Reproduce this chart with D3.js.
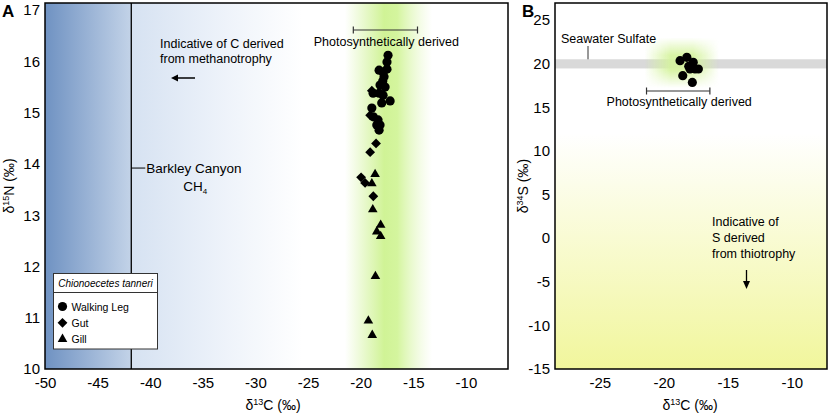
<!DOCTYPE html>
<html>
<head>
<meta charset="utf-8">
<script src="https://cdn.jsdelivr.net/npm/d3@7"></script>
<style>
  body { margin: 0; background: #fff; }
  svg { font-family: "Liberation Sans", Arial, sans-serif; }
</style>
</head>
<body>
<script>
// ---- data ----
var walkingLegC = [-17.4, -17.5, -18.25, -17.87, -17.5, -17.78, -17.9, -18.16, -17.68, -18.82, -18.25, -17.87, -17.2, -18.0, -18.94, -18.8, -18.35, -18.47, -18.16, -18.25];
var walkingLegN = [16.12, 15.99, 15.83, 15.79, 15.85, 15.70, 15.62, 15.54, 15.50, 15.38, 15.38, 15.34, 15.23, 15.19, 15.09, 14.92, 14.86, 14.76, 14.76, 14.66];
var gutC = [-18.94, -19.1, -18.54, -19.1, -19.96, -19.58, -18.8];
var gutN = [15.43, 14.95, 14.40, 14.23, 13.74, 13.63, 13.37];
var gillC = [-18.63, -18.94, -18.85, -18.1, -18.47, -18.1, -18.6, -19.27, -18.9];
var gillN = [13.80, 13.62, 13.11, 12.81, 12.68, 12.59, 11.81, 10.94, 10.66];

var walkingLegBC = [-18.73, -18.2, -17.7, -17.95, -17.56, -17.3, -18.52, -17.77, -18.05];
var walkingLegBS = [20.34, 20.72, 20.15, 19.39, 19.39, 19.39, 18.62, 17.85, 19.7];

var xTicksA = [-50, -45, -40, -35, -30, -25, -20, -15, -10];
var yTicksA = [10, 11, 12, 13, 14, 15, 16, 17];
var xTicksB = [-25, -20, -15, -10];
var yTicksB = [-15, -10, -5, 0, 5, 10, 15, 20, 25];

var barkleyCH4 = -41.8;
var photoRangeA = [-20.7, -14.6];
var photoRangeB = [-21.35, -16.4];
var seawaterSulfate = [19.45, 20.5];
var legendLabels = ["Walking Leg", "Gut", "Gill"];

// ---- layout ----
var W = 829, H = 415;
var svg = d3.select('body').append('svg')
  .attr('width', W).attr('height', H);
var defs = svg.append('defs');

var A = { left: 45, top: 3, right: 508, bottom: 369 };
var B = { left: 555, top: 3, right: 827, bottom: 369 };

var xA = d3.scaleLinear().domain([-50, -6]).range([A.left, A.right]);
var yA = d3.scaleLinear().domain([10, 17.14]).range([A.bottom, A.top]);
var xB = d3.scaleLinear().domain([-28.5, -7.25]).range([B.left, B.right]);
var yB = d3.scaleLinear().domain([-15, 26.95]).range([B.bottom, B.top]);

function grad(id, stops, vertical) {
  var g = defs.append('linearGradient').attr('id', id)
    .attr('x1', 0).attr('y1', 0)
    .attr('x2', vertical ? 0 : 1).attr('y2', vertical ? 1 : 0);
  stops.forEach(function(s) {
    g.append('stop').attr('offset', s[0]).attr('stop-color', s[1]).attr('stop-opacity', s[2] == null ? 1 : s[2]);
  });
}
grad('blueDark', [[0, '#6f92c2'], [1, '#c3d3e8']]);
grad('blueLight', [[0, '#d6e2f2'], [0.55, '#eef3fa'], [1, '#ffffff']]);
grad('greenA', [[0, '#d2f29c', 0], [0.45, '#d0f396', 1], [0.6, '#d4f59e', 1], [1, '#e4f8c4', 0]]);
grad('yellowB', [[0, '#ffffff'], [1, '#f1f69c']], true);
grad('greenBh', [[0, '#d4f39c', 0], [0.35, '#d4f39c', 0.9], [0.65, '#d4f39c', 0.9], [1, '#d4f39c', 0]]);
var mk = defs.append('linearGradient').attr('id', 'fadeV').attr('x1', 0).attr('y1', 0).attr('x2', 0).attr('y2', 1);
mk.append('stop').attr('offset', 0).attr('stop-color', '#fff').attr('stop-opacity', 0);
mk.append('stop').attr('offset', 0.35).attr('stop-color', '#fff').attr('stop-opacity', 1);
mk.append('stop').attr('offset', 0.65).attr('stop-color', '#fff').attr('stop-opacity', 1);
mk.append('stop').attr('offset', 1).attr('stop-color', '#fff').attr('stop-opacity', 0);
defs.append('mask').attr('id', 'glowMask').attr('maskContentUnits', 'objectBoundingBox')
  .append('rect').attr('width', 1).attr('height', 1).attr('fill', 'url(#fadeV)');

// ---- panel A backgrounds ----
var gA = svg.append('g');
gA.append('rect')
  .attr('x', xA(-50)).attr('y', A.top)
  .attr('width', xA(barkleyCH4) - xA(-50)).attr('height', A.bottom - A.top)
  .attr('fill', 'url(#blueDark)');
gA.append('rect')
  .attr('x', xA(barkleyCH4)).attr('y', A.top)
  .attr('width', xA(-25.5) - xA(barkleyCH4)).attr('height', A.bottom - A.top)
  .attr('fill', 'url(#blueLight)');
gA.append('rect')
  .attr('x', xA(-21.5)).attr('y', A.top)
  .attr('width', xA(-13.2) - xA(-21.5)).attr('height', A.bottom - A.top)
  .attr('fill', 'url(#greenA)');

// Barkley Canyon CH4 line
gA.append('line')
  .attr('x1', xA(barkleyCH4)).attr('x2', xA(barkleyCH4))
  .attr('y1', A.top).attr('y2', A.bottom)
  .attr('stroke', '#000').attr('stroke-width', 1.3);
gA.append('line')
  .attr('x1', xA(barkleyCH4)).attr('x2', xA(barkleyCH4) + 14)
  .attr('y1', yA(13.92)).attr('y2', yA(13.92))
  .attr('stroke', '#000').attr('stroke-width', 1);
gA.append('text')
  .attr('x', xA(barkleyCH4) + 15).attr('y', yA(13.92) + 5)
  .attr('font-size', 13.5).text('Barkley Canyon');
var ch4 = gA.append('text')
  .attr('x', xA(barkleyCH4) + 52).attr('y', yA(13.92) + 23)
  .attr('font-size', 13.5);
ch4.append('tspan').text('CH');
ch4.append('tspan').attr('font-size', 8).attr('dy', 3).text('4');

// methanotrophy note
gA.append('text').attr('x', 160).attr('y', 48).attr('font-size', 12.5).text('Indicative of C derived');
gA.append('text').attr('x', 160).attr('y', 63).attr('font-size', 12.5).text('from methanotrophy');
gA.append('line')
  .attr('x1', 195).attr('x2', 173).attr('y1', 78).attr('y2', 78)
  .attr('stroke', '#000').attr('stroke-width', 1.5);
gA.append('path').attr('d', 'M171,78 L178,74.5 L178,81.5 Z').attr('fill', '#000');

// photosynthetic range bar A
function rangeBar(g, x0, x1, y) {
  g.append('line').attr('x1', x0).attr('x2', x1).attr('y1', y).attr('y2', y)
    .attr('stroke', '#333').attr('stroke-width', 1.2);
  [x0, x1].forEach(function(x) {
    g.append('line').attr('x1', x).attr('x2', x).attr('y1', y - 3.5).attr('y2', y + 3.5)
      .attr('stroke', '#333').attr('stroke-width', 1.2);
  });
}
rangeBar(gA, xA(photoRangeA[0]), xA(photoRangeA[1]), 30);
gA.append('text')
  .attr('x', (xA(photoRangeA[0]) + xA(photoRangeA[1])) / 2 + 1).attr('y', 46)
  .attr('text-anchor', 'middle').attr('font-size', 12.5)
  .text('Photosynthetically derived');

// points A
var circleSym = d3.symbol().type(d3.symbolCircle).size(66);
var diamondSym = d3.symbol().type(d3.symbolSquare).size(48);
var triSym = d3.symbol().type(d3.symbolTriangle).size(40);

function plotPts(g, xs, ys, sx, sy, sym, rot) {
  g.selectAll(null).data(xs.map(function(v, i) { return [v, ys[i]]; }))
    .enter().append('path')
    .attr('d', sym)
    .attr('transform', function(d) {
      return 'translate(' + sx(d[0]) + ',' + sy(d[1]) + ')' + (rot ? ' rotate(45)' : '');
    })
    .attr('fill', '#000');
}
plotPts(gA, gillC, gillN, xA, yA, triSym);
plotPts(gA, gutC, gutN, xA, yA, diamondSym, true);
plotPts(gA, walkingLegC, walkingLegN, xA, yA, circleSym);

// legend
var lg = gA.append('g');
lg.append('rect').attr('x', 53.5).attr('y', 273.5).attr('width', 104).attr('height', 75.5)
  .attr('fill', '#fff').attr('stroke', '#333').attr('stroke-width', 1);
lg.append('line').attr('x1', 53.5).attr('x2', 157.5).attr('y1', 292.5).attr('y2', 292.5)
  .attr('stroke', '#333').attr('stroke-width', 1);
lg.append('text').attr('x', 105.5).attr('y', 286.5).attr('text-anchor', 'middle')
  .attr('font-size', 10).attr('font-style', 'italic').text('Chionoecetes tanneri');
var legSyms = [[circleSym, false], [diamondSym, true], [triSym, false]];
legendLabels.forEach(function(lab, i) {
  var yy = 306.5 + i * 16.3;
  lg.append('path').attr('d', legSyms[i][0])
    .attr('transform', 'translate(62.5,' + yy + ')' + (legSyms[i][1] ? ' rotate(45)' : ''))
    .attr('fill', '#000');
  lg.append('text').attr('x', 71.5).attr('y', yy + 4).attr('font-size', 10.5).text(lab);
});

// frame A
gA.append('rect').attr('x', A.left).attr('y', A.top)
  .attr('width', A.right - A.left).attr('height', A.bottom - A.top)
  .attr('fill', 'none').attr('stroke', '#000').attr('stroke-width', 1.5);

// axes A
var fmt = function(d) { return String(d); };
function styleAxis(g) {
  g.select('.domain').remove();
  g.selectAll('text').attr('font-size', 15).attr('fill', '#000')
    .attr('font-family', '"Liberation Sans", Arial, sans-serif');
}
svg.append('g').attr('transform', 'translate(0,' + A.bottom + ')')
  .call(d3.axisBottom(xA).tickValues(xTicksA).tickFormat(fmt).tickSize(0).tickPadding(8))
  .call(styleAxis);
svg.append('g').attr('transform', 'translate(' + A.left + ',0)')
  .call(d3.axisLeft(yA).tickValues(yTicksA).tickFormat(fmt).tickSize(0).tickPadding(5))
  .call(styleAxis);

function axisTitle(x, y, sup, letter, rotate) {
  var t = svg.append('text').attr('font-size', 14).attr('text-anchor', 'middle')
    .attr('transform', 'translate(' + x + ',' + y + ')' + (rotate ? ' rotate(-90)' : ''));
  t.append('tspan').text('δ');
  t.append('tspan').attr('font-size', 9).attr('dy', -5).text(sup);
  t.append('tspan').attr('dy', 5).text(letter + ' (‰)');
}
axisTitle(273, 410, '13', 'C');
axisTitle(14, 186, '15', 'N', true);

svg.append('text').attr('x', 2).attr('y', 17).attr('font-size', 17).attr('font-weight', 'bold').text('A');
svg.append('text').attr('x', 522).attr('y', 17).attr('font-size', 17).attr('font-weight', 'bold').text('B');

// ---- panel B ----
var gB = svg.append('g');
gB.append('rect')
  .attr('x', B.left).attr('y', yB(12))
  .attr('width', B.right - B.left).attr('height', B.bottom - yB(12))
  .attr('fill', 'url(#yellowB)');
gB.append('rect')
  .attr('x', B.left).attr('y', yB(seawaterSulfate[1]))
  .attr('width', B.right - B.left).attr('height', yB(seawaterSulfate[0]) - yB(seawaterSulfate[1]))
  .attr('fill', '#d9d9d9');
gB.append('rect')
  .attr('x', xB(-21.5)).attr('y', yB(23.0))
  .attr('width', xB(-15.7) - xB(-21.5)).attr('height', yB(17.2) - yB(23.0))
  .attr('fill', 'url(#greenBh)').attr('mask', 'url(#glowMask)');

gB.append('line').attr('x1', 588).attr('x2', 588).attr('y1', 46).attr('y2', yB(seawaterSulfate[1]))
  .attr('stroke', '#333').attr('stroke-width', 1);
gB.append('text').attr('x', 561).attr('y', 43).attr('font-size', 12.5).text('Seawater Sulfate');

rangeBar(gB, xB(photoRangeB[0]), xB(photoRangeB[1]), 91);
gB.append('text')
  .attr('x', (xB(photoRangeB[0]) + xB(photoRangeB[1])) / 2 + 1).attr('y', 106)
  .attr('text-anchor', 'middle').attr('font-size', 12.5)
  .text('Photosynthetically derived');

plotPts(gB, walkingLegBC, walkingLegBS, xB, yB, circleSym);

gB.append('text').attr('x', 712).attr('y', 226).attr('font-size', 12.5).text('Indicative of');
gB.append('text').attr('x', 712).attr('y', 242).attr('font-size', 12.5).text('S derived');
gB.append('text').attr('x', 712).attr('y', 258).attr('font-size', 12.5).text('from thiotrophy');
gB.append('line').attr('x1', 746.5).attr('x2', 746.5).attr('y1', 270).attr('y2', 284)
  .attr('stroke', '#000').attr('stroke-width', 1.3);
gB.append('path').attr('d', 'M746.5,289 L743,281 L750,281 Z').attr('fill', '#000');

gB.append('rect').attr('x', B.left).attr('y', B.top)
  .attr('width', B.right - B.left).attr('height', B.bottom - B.top)
  .attr('fill', 'none').attr('stroke', '#000').attr('stroke-width', 1.5);

svg.append('g').attr('transform', 'translate(0,' + B.bottom + ')')
  .call(d3.axisBottom(xB).tickValues(xTicksB).tickFormat(fmt).tickSize(0).tickPadding(8))
  .call(styleAxis);
svg.append('g').attr('transform', 'translate(' + B.left + ',0)')
  .call(d3.axisLeft(yB).tickValues(yTicksB).tickFormat(fmt).tickSize(0).tickPadding(5))
  .call(styleAxis);

axisTitle(690, 410, '13', 'C');
axisTitle(528, 186, '34', 'S', true);
</script>
</body>
</html>
